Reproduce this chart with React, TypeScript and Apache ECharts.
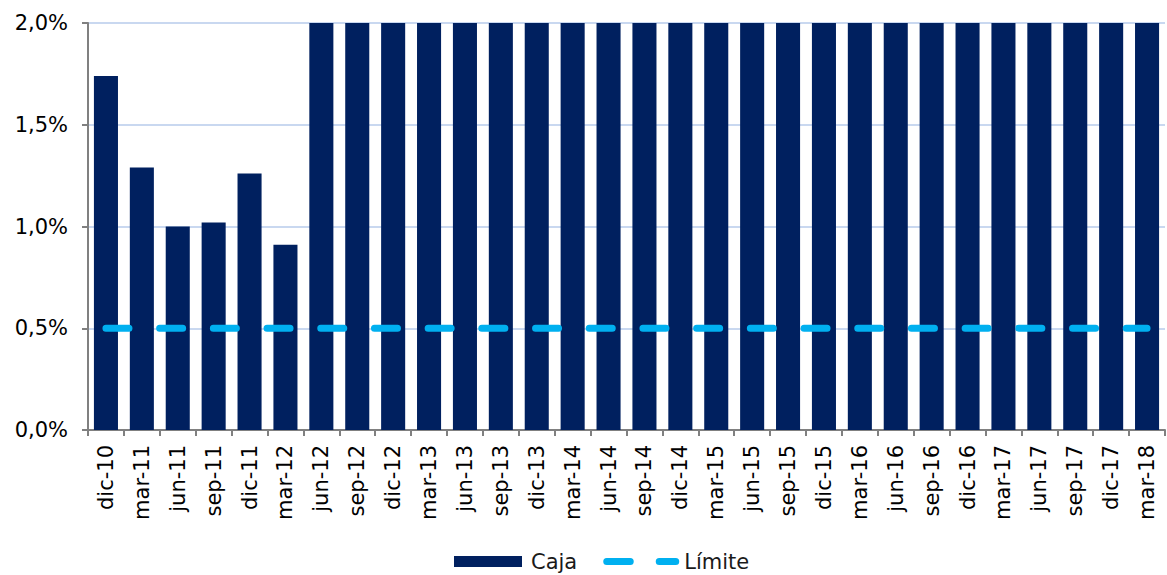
import React, { useEffect, useRef } from "react";
import * as echarts from "echarts";

const categories = [
  "dic-10", "mar-11", "jun-11", "sep-11", "dic-11", "mar-12", "jun-12", "sep-12",
  "dic-12", "mar-13", "jun-13", "sep-13", "dic-13", "mar-14", "jun-14", "sep-14",
  "dic-14", "mar-15", "jun-15", "sep-15", "dic-15", "mar-16", "jun-16", "sep-16",
  "dic-16", "mar-17", "jun-17", "sep-17", "dic-17", "mar-18",
];

// Caja (%): values from jun-12 onward exceed the 2,0% axis maximum and are clipped
const caja = [
  1.74, 1.29, 1.0, 1.02, 1.26, 0.91, 2.6, 2.8,
  3.0, 3.1, 3.0, 2.9, 3.2, 3.3, 3.1, 3.0,
  3.2, 3.4, 3.3, 3.1, 3.2, 3.5, 3.4, 3.3,
  3.2, 3.4, 3.5, 3.3, 3.2, 3.4,
];

// Límite (%)
const limite = categories.map(() => 0.5);

const yTicks = [0, 0.5, 1.0, 1.5, 2.0];

const BAR_COLOR = "#00205f";
const LINE_COLOR = "#00b0f0";

const cajaIcon = "path://M0,0 H68 V11 H0 Z";
const limiteIcon =
  "path://M3.5,0 H27 A3.5,3.5 0 0 1 27,7 H3.5 A3.5,3.5 0 0 1 3.5,0 Z M56,0 H72.5 A3.5,3.5 0 0 1 72.5,7 H56 A3.5,3.5 0 0 1 56,0 Z";

export default function App() {
  const ref = useRef<HTMLDivElement>(null);

  useEffect(() => {
    if (!ref.current) return;
    const chart = echarts.init(ref.current, undefined, { renderer: "svg" });
    const font = "DejaVu Sans";
    chart.setOption({
      animation: false,
      textStyle: { fontFamily: font },
      grid: { left: 88, right: 2, top: 23, bottom: 145, containLabel: false },
      legend: {
        left: 454,
        top: 550,
        padding: 0,
        itemGap: 26,
        itemWidth: 76,
        itemHeight: 11,
        symbolKeepAspect: true,
        textStyle: { fontFamily: font, fontSize: 21, color: "#1a1a1a", lineHeight: 23 },
        data: [
          { name: "Caja", icon: cajaIcon, itemStyle: { color: BAR_COLOR } },
          { name: "Límite", icon: limiteIcon, itemStyle: { color: LINE_COLOR } },
        ],
      },
      xAxis: {
        type: "category",
        data: categories,
        boundaryGap: true,
        axisLine: { lineStyle: { color: "#808080", width: 2 } },
        axisTick: { show: true, length: 6, lineStyle: { color: "#808080", width: 2 } },
        axisLabel: {
          rotate: 90,
          interval: 0,
          margin: 15,
          fontSize: 21,
          color: "#000",
          fontFamily: font,
        },
        splitLine: { show: false },
      },
      yAxis: {
        type: "value",
        min: yTicks[0],
        max: yTicks[yTicks.length - 1],
        interval: 0.5,
        axisLine: { show: true, lineStyle: { color: "#808080", width: 2 } },
        axisTick: { show: true, length: 6, lineStyle: { color: "#808080", width: 2 } },
        axisLabel: {
          margin: 20,
          fontSize: 21,
          color: "#000",
          fontFamily: font,
          formatter: (v: number) => v.toFixed(1).replace(".", ",") + "%",
        },
        splitLine: { show: true, lineStyle: { color: "#c9d8f0", width: 2 } },
      },
      series: [
        {
          name: "Caja",
          type: "bar",
          data: caja,
          barCategoryGap: "33%",
          clip: true,
          itemStyle: { color: BAR_COLOR },
          z: 2,
        },
        {
          name: "Límite",
          type: "line",
          data: limite,
          symbol: "none",
          showSymbol: false,
          z: 3,
          itemStyle: { color: LINE_COLOR },
          lineStyle: { color: LINE_COLOR, width: 7, type: [23, 30.7], cap: "round" },
        },
      ],
    });
    return () => chart.dispose();
  }, []);

  return (
    <div
      ref={ref}
      style={{ position: "fixed", left: 0, top: 0, width: 1167, height: 575, background: "#fff" }}
    />
  );
}
